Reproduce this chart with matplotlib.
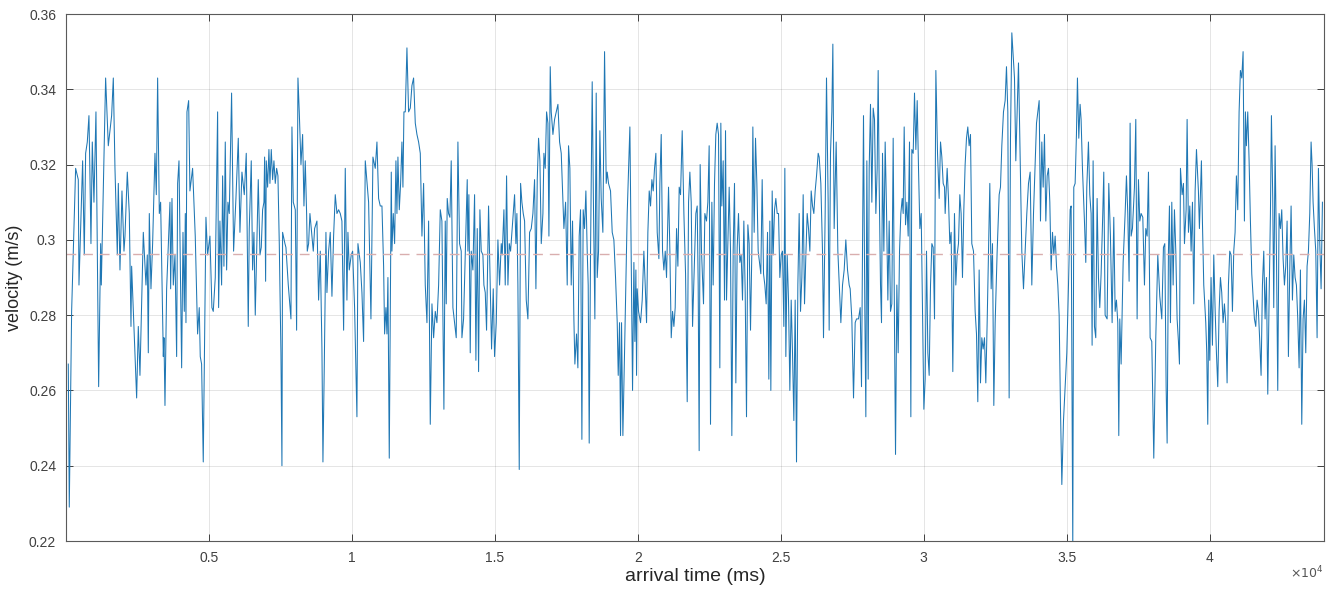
"""Velocity vs arrival time, MATLAB-style trace with mean line."""

import matplotlib
matplotlib.use("Agg")
import matplotlib.pyplot as plt
import numpy as np

# values (turning points of the trace)
arrival_ms = [
    81, 116, 198, 338, 431, 455, 513, 583, 641, 688, 746, 804, 839, 874, 921, 979,
    1049, 1143, 1213, 1236, 1387, 1481, 1597, 1656, 1714, 1796, 1831, 1889, 1959, 2029,
    2064, 2145, 2215, 2274, 2297, 2472, 2530, 2588, 2705, 2798, 2845, 2880, 2915, 2973,
    3031, 3113, 3160, 3206, 3265, 3311, 3405, 3428, 3463, 3521, 3638, 3661, 3708, 3754,
    3813, 3871, 3906, 3953, 4046, 4093, 4139, 4174, 4197, 4232, 4291,
    4336, 4429, 4522, 4604, 4662, 4697, 4744, 4802, 4896, 4954, 5036, 5105, 5152, 5222,
    5304, 5339, 5385, 5444, 5479, 5525, 5572, 5619, 5665, 5712, 5793, 5863, 5945, 6027,
    6085, 6155, 6237, 6306, 6376, 6411, 6481, 6528, 6575, 6621, 6668, 6726, 6785, 6831,
    6878, 6924, 6948, 6983, 7006, 7053, 7099, 7134, 7181, 7228, 7274, 7321, 7368, 7414,
    7461, 7519, 7554, 7577, 7659, 7694, 7776, 7869, 7904, 7951, 8021, 8067, 8114, 8160,
    8219, 8277, 8324, 8370, 8417, 8440, 8487, 8533, 8580, 8650, 8697,
    8778, 8836, 8895, 8953, 8988, 9034, 9093, 9128, 9186, 9244, 9303, 9361, 9419, 9478,
    9536, 9594, 9652, 9711, 9769, 9827, 9862, 9909, 9979, 10026, 10095, 10177, 10212,
    10294, 10352, 10410, 10469, 10585, 10667, 10737, 10818, 10877, 10935, 10993, 11052,
    11110, 11145, 11191, 11227, 11261, 11308, 11355, 11378, 11401, 11448, 11495, 11541,
    11576, 11611, 11658, 11705, 11751, 11786, 11821, 11868, 11926, 11984, 12043, 12101,
    12159, 12218, 12276, 12334, 12393, 12451, 12509, 12567, 12626, 12684, 12742, 12801,
    12859, 12917, 12975, 13034, 13092,
    13149, 13219, 13266, 13301, 13335, 13382, 13429, 13475, 13534, 13592, 13650, 13709,
    13767, 13825, 13849, 13907, 13965, 14035, 14058, 14093, 14140, 14175, 14233, 14292,
    14338, 14385, 14432, 14478, 14525, 14583, 14618, 14665, 14711, 14781, 14840, 14886,
    14945, 14991, 15050, 15108, 15166, 15225, 15259, 15318, 15364, 15411, 15458, 15504,
    15551, 15598, 15644, 15691, 15737, 15772, 15807, 15854, 15901, 15947, 15994, 16041,
    16099, 16157, 16216, 16274, 16332, 16390, 16437, 16484, 16530, 16577, 16624, 16682,
    16717, 16763, 16810, 16857, 16892, 16938, 16973, 17032, 17090, 17148, 17207, 17265,
    17323, 17416, 17475,
    17532, 17578, 17625, 17672, 17718, 17765, 17800, 17858, 17905, 17951, 17998, 18045,
    18091, 18138, 18185, 18231, 18266, 18301, 18348, 18406, 18453, 18499, 18546, 18581,
    18628, 18674, 18721, 18779, 18838, 18896, 18931, 18977, 19047, 19106, 19164, 19222,
    19281, 19316, 19362, 19397, 19432, 19479, 19537, 19630, 19724, 19782, 19817, 19864,
    19899, 19934, 19957, 19980, 20027, 20097, 20155, 20213, 20260, 20307, 20353, 20400,
    20447, 20493, 20540, 20586, 20633, 20680, 20738, 20773, 20820, 20866, 20913, 20960,
    21006, 21076, 21123, 21170, 21216, 21263, 21309, 21356, 21403, 21449, 21496, 21554,
    21613, 21671, 21729, 21776, 21822, 21869, 21916,
    21973, 22031, 22078, 22113, 22147, 22182, 22229, 22299, 22346, 22404, 22451, 22497,
    22544, 22591, 22637, 22684, 22730, 22777, 22824, 22870, 22905, 22940, 22987, 23034,
    23069, 23104, 23150, 23197, 23244, 23290, 23337, 23383, 23430, 23477, 23523, 23570,
    23617, 23663, 23710, 23757, 23803, 23850, 23896, 23943, 23990, 24025, 24071, 24118,
    24165, 24211, 24258, 24304, 24351, 24398, 24444, 24491, 24538, 24584, 24619, 24654,
    24701, 24736, 24783, 24829, 24876, 24923, 24969, 25016, 25062, 25109, 25144, 25179,
    25226, 25272, 25319, 25366, 25412, 25459, 25505, 25552, 25599, 25645, 25692, 25739,
    25785, 25832, 25879, 25925, 25972, 26019, 26065, 26112, 26158, 26205, 26252, 26310,
    26345, 26403, 26461, 26496, 26554, 26601, 26659, 26694, 26741, 26788, 26823, 26869,
    26939, 26998, 27103, 27161, 27219, 27277, 27336, 27394, 27429, 27487, 27546, 27604,
    27651, 27720, 27779, 27825, 27860, 27895, 27942, 27977, 28012, 28059, 28094, 28140,
    28187, 28234, 28280, 28327, 28373, 28408, 28443, 28490, 28525, 28560, 28607, 28653,
    28700, 28747, 28793, 28840, 28886, 28933, 28980, 29015, 29061, 29108, 29155, 29201,
    29248, 29283, 29318, 29365, 29411, 29458, 29504, 29551, 29586, 29633, 29679, 29726,
    29773, 29819, 29866, 29913, 29959, 30006, 30052, 30099, 30146, 30192, 30239, 30286,
    30332, 30379, 30426, 30484, 30542, 30589, 30635, 30682, 30729,
    30751, 30821, 30867, 30914, 30960, 31019, 31077, 31124, 31170, 31217, 31264, 31310,
    31357, 31404, 31450, 31497, 31543, 31590, 31637, 31683, 31742, 31800, 31847, 31893,
    31940, 31987, 32033, 32080, 32126, 32173, 32220, 32266, 32313, 32360, 32406, 32453,
    32500, 32570, 32640, 32686, 32733, 32791, 32849, 32896, 32943, 32989, 33036, 33083,
    33129, 33176, 33222, 33269, 33316, 33362, 33432, 33491, 33549, 33607, 33666, 33724,
    33782, 33841, 33899, 33946, 33992, 34039, 34085, 34132, 34179, 34225, 34272, 34319,
    34365, 34412, 34458, 34505, 34552, 34598, 34645, 34692, 34738, 34785, 34832, 34890,
    34948, 35006, 35065, 35123,
    35157, 35215, 35250, 35297, 35343, 35378, 35425, 35471, 35506, 35553, 35623, 35670,
    35705, 35763, 35810, 35856, 35891, 35926, 35973, 36019, 36066, 36113, 36159, 36206,
    36264, 36299, 36346, 36416, 36474, 36532, 36591, 36649, 36696, 36742, 36789, 36824,
    36859, 36906, 36976, 37046, 37092, 37139, 37185, 37220, 37255, 37302, 37372, 37419,
    37465, 37512, 37559, 37605, 37664, 37722, 37768, 37815, 37862, 37920, 37978, 38048,
    38118, 38188, 38258, 38328, 38386, 38433, 38480, 38515, 38561, 38596, 38631, 38678,
    38725, 38771, 38818, 38864, 38911, 38946, 38981, 39039, 39086, 39121, 39179, 39214,
    39261, 39308, 39354, 39401, 39447, 39494, 39541,
    39609, 39644, 39679, 39714, 39749, 39796, 39866, 39901, 39936, 39971, 40006, 40052,
    40099, 40146, 40192, 40239, 40286, 40332, 40379, 40425, 40472, 40519, 40565, 40612,
    40659, 40705, 40752, 40799, 40845, 40892, 40938, 40985, 41032, 41078, 41125, 41172,
    41218, 41253, 41288, 41335, 41382, 41428, 41475, 41521, 41568, 41615, 41661, 41708,
    41755, 41801, 41848, 41895, 41941, 41988, 42035, 42081, 42128, 42163, 42209, 42244,
    42291, 42338, 42384, 42431, 42478, 42524, 42571, 42618, 42664, 42711, 42757, 42804,
    42851, 42897, 42944, 42991, 43037, 43084, 43131, 43177, 43224, 43270, 43317, 43364,
    43410, 43457, 43504, 43550, 43585, 43620, 43667, 43714, 43760, 43807, 43854, 43900,
    43947,
]

velocity = [
    0.267, 0.229, 0.281, 0.319, 0.316, 0.288, 0.303, 0.321, 0.296, 0.323, 0.326, 0.333, 0.317, 0.299, 0.326, 0.310,
    0.334, 0.261, 0.299, 0.288, 0.343, 0.325, 0.333, 0.343, 0.319, 0.296, 0.315, 0.292, 0.313, 0.297,
    0.301, 0.318, 0.307, 0.277, 0.293, 0.258, 0.277, 0.264, 0.302, 0.288, 0.296, 0.270, 0.307, 0.287,
    0.299, 0.323, 0.312, 0.343, 0.307, 0.310, 0.269, 0.274, 0.256, 0.287, 0.310, 0.287, 0.311, 0.288,
    0.296, 0.269, 0.315, 0.321, 0.266, 0.302, 0.281, 0.307, 0.278, 0.334, 0.337,
    0.313, 0.319, 0.301, 0.275, 0.282, 0.269, 0.267, 0.241, 0.306, 0.296, 0.301, 0.282, 0.281, 0.290,
    0.334, 0.282, 0.305, 0.288, 0.317, 0.293, 0.326, 0.292, 0.310, 0.307, 0.339, 0.297, 0.311, 0.327,
    0.302, 0.318, 0.312, 0.323, 0.277, 0.303, 0.321, 0.292, 0.302, 0.280, 0.296, 0.316, 0.296, 0.298,
    0.308, 0.310, 0.322, 0.289, 0.321, 0.314, 0.324, 0.315, 0.324, 0.316, 0.321, 0.315, 0.319, 0.317,
    0.299, 0.270, 0.240, 0.302, 0.299, 0.298, 0.288, 0.279, 0.330, 0.310, 0.308, 0.276, 0.343, 0.334,
    0.320, 0.328, 0.309, 0.321, 0.307, 0.297, 0.299, 0.307, 0.303, 0.297, 0.303,
    0.305, 0.284, 0.297, 0.271, 0.241, 0.266, 0.302, 0.286, 0.297, 0.302, 0.285, 0.301, 0.312, 0.307,
    0.308, 0.307, 0.305, 0.276, 0.319, 0.284, 0.302, 0.292, 0.296, 0.297, 0.282, 0.253, 0.299,
    0.294, 0.286, 0.273, 0.321, 0.310, 0.279, 0.322, 0.319, 0.326, 0.311, 0.309, 0.309,
    0.293, 0.275, 0.282, 0.275, 0.290, 0.242, 0.291, 0.318, 0.297, 0.307, 0.299, 0.321,
    0.307, 0.322, 0.308, 0.315, 0.326, 0.314, 0.334, 0.334, 0.351, 0.334, 0.335, 0.341,
    0.343, 0.331, 0.328, 0.326, 0.323, 0.301, 0.315, 0.288, 0.278, 0.305, 0.251, 0.283,
    0.274, 0.281, 0.278, 0.288, 0.308,
    0.305, 0.255, 0.305, 0.283, 0.311, 0.307, 0.306, 0.321, 0.282, 0.278, 0.274, 0.326,
    0.299, 0.297, 0.274, 0.279, 0.296, 0.316, 0.297, 0.312, 0.270, 0.297, 0.292, 0.312,
    0.268, 0.303, 0.265, 0.308, 0.297, 0.296, 0.288, 0.286, 0.276, 0.309, 0.287, 0.271,
    0.287, 0.269, 0.278, 0.300, 0.288, 0.299, 0.296, 0.308, 0.288, 0.317, 0.288, 0.299,
    0.297, 0.302, 0.307, 0.312, 0.299, 0.307, 0.288, 0.239, 0.315, 0.310, 0.307, 0.305,
    0.284, 0.279, 0.302, 0.303, 0.307, 0.316, 0.287, 0.316, 0.327, 0.321, 0.299, 0.307,
    0.323, 0.319, 0.334, 0.331, 0.301, 0.346, 0.334, 0.328, 0.332, 0.334, 0.336, 0.326,
    0.323, 0.303, 0.310,
    0.288, 0.325, 0.319, 0.288, 0.305, 0.279, 0.267, 0.275, 0.266, 0.301, 0.308, 0.247,
    0.308, 0.303, 0.313, 0.297, 0.288, 0.246, 0.297, 0.342, 0.307, 0.279, 0.339, 0.290,
    0.297, 0.329, 0.311, 0.302, 0.350, 0.315, 0.318, 0.315, 0.313, 0.302, 0.300, 0.290,
    0.278, 0.264, 0.278, 0.248, 0.278, 0.248, 0.270, 0.307, 0.330, 0.287, 0.260, 0.294,
    0.273, 0.292, 0.264, 0.287, 0.281, 0.278, 0.284, 0.297, 0.288, 0.278, 0.302, 0.313,
    0.309, 0.316, 0.313, 0.319, 0.323, 0.302, 0.295, 0.315, 0.328, 0.297, 0.292, 0.297,
    0.290, 0.314, 0.297, 0.274, 0.281, 0.277, 0.282, 0.303, 0.293, 0.314, 0.312, 0.329,
    0.307, 0.291, 0.257, 0.310, 0.318, 0.310, 0.277,
    0.292, 0.307, 0.309, 0.288, 0.244, 0.320, 0.297, 0.283, 0.307, 0.305, 0.310, 0.325,
    0.251, 0.310, 0.288, 0.315, 0.328, 0.331, 0.328, 0.266, 0.331, 0.309, 0.321, 0.284,
    0.329, 0.284, 0.299, 0.314, 0.297, 0.248, 0.297, 0.315, 0.262, 0.298, 0.307, 0.294,
    0.296, 0.284, 0.305, 0.286, 0.253, 0.304, 0.299, 0.276, 0.297, 0.330, 0.302, 0.327,
    0.315, 0.297, 0.294, 0.291, 0.316, 0.291, 0.288, 0.283, 0.302, 0.263, 0.305, 0.260,
    0.313, 0.296, 0.308, 0.311, 0.307, 0.307, 0.290, 0.296, 0.297, 0.277, 0.319, 0.269,
    0.296, 0.284, 0.260, 0.284, 0.270, 0.252, 0.284, 0.241, 0.288, 0.307, 0.281, 0.290,
    0.312, 0.283, 0.296, 0.307, 0.303, 0.297, 0.313, 0.309, 0.307, 0.313, 0.317, 0.323,
    0.322, 0.315, 0.297, 0.274, 0.307, 0.343, 0.310, 0.276, 0.323, 0.334, 0.352, 0.303,
    0.326, 0.297, 0.278, 0.288, 0.292, 0.300, 0.292, 0.288, 0.287, 0.279, 0.258, 0.278,
    0.279, 0.279, 0.282, 0.261, 0.296, 0.333, 0.281, 0.253, 0.321, 0.263, 0.319, 0.336,
    0.310, 0.335, 0.332, 0.307, 0.319, 0.345, 0.315, 0.288, 0.278, 0.323, 0.297, 0.326,
    0.308, 0.284, 0.305, 0.281, 0.283, 0.327, 0.276, 0.243, 0.288, 0.270, 0.297, 0.307,
    0.311, 0.307, 0.330, 0.304, 0.310, 0.301, 0.326, 0.253, 0.324, 0.323, 0.339, 0.324,
    0.337, 0.319, 0.303, 0.307, 0.281, 0.255, 0.263, 0.297, 0.270, 0.264, 0.288, 0.299,
    0.298, 0.279, 0.345, 0.323, 0.311, 0.326, 0.322, 0.315, 0.314,
    0.307, 0.319, 0.311, 0.299, 0.302, 0.265, 0.307, 0.288, 0.296, 0.299, 0.312, 0.307,
    0.290, 0.308, 0.320, 0.327, 0.330, 0.325, 0.328, 0.299, 0.297, 0.281, 0.275, 0.257,
    0.292, 0.262, 0.274, 0.271, 0.274, 0.262, 0.278, 0.297, 0.315, 0.287, 0.299, 0.256,
    0.278, 0.297, 0.312, 0.314, 0.325, 0.334, 0.337, 0.346, 0.334, 0.258, 0.327, 0.355,
    0.349, 0.343, 0.321, 0.334, 0.347, 0.327, 0.297, 0.287, 0.297, 0.307, 0.315, 0.318,
    0.288, 0.307, 0.320, 0.331, 0.334, 0.337, 0.305, 0.326, 0.314, 0.328, 0.305, 0.317,
    0.319, 0.310, 0.292, 0.302, 0.296, 0.301, 0.293, 0.288, 0.280, 0.255, 0.235, 0.252,
    0.261, 0.270, 0.288, 0.308,
    0.309, 0.218, 0.314, 0.315, 0.328, 0.343, 0.327, 0.336, 0.332, 0.319, 0.305, 0.294,
    0.314, 0.326, 0.312, 0.307, 0.272, 0.321, 0.277, 0.274, 0.311, 0.290, 0.282, 0.291,
    0.307, 0.318, 0.280, 0.279, 0.315, 0.301, 0.278, 0.306, 0.281, 0.284, 0.278, 0.248,
    0.279, 0.267, 0.294, 0.307, 0.317, 0.307, 0.289, 0.331, 0.301, 0.303, 0.314, 0.332,
    0.279, 0.316, 0.305, 0.307, 0.306, 0.288, 0.303, 0.301, 0.318, 0.274, 0.273, 0.242,
    0.274, 0.296, 0.285, 0.279, 0.298, 0.299, 0.261, 0.246, 0.297, 0.309, 0.278, 0.310,
    0.288, 0.308, 0.297, 0.279, 0.273, 0.267, 0.319, 0.312, 0.315, 0.299, 0.308, 0.332,
    0.302, 0.309, 0.297, 0.310, 0.283, 0.313, 0.324,
    0.313, 0.303, 0.312, 0.321, 0.305, 0.288, 0.278, 0.270, 0.251, 0.284, 0.268, 0.290,
    0.272, 0.296, 0.282, 0.270, 0.261, 0.281, 0.290, 0.286, 0.278, 0.283, 0.278, 0.262,
    0.288, 0.297, 0.296, 0.281, 0.297, 0.302, 0.317, 0.308, 0.334, 0.345, 0.343, 0.350,
    0.305, 0.334, 0.325, 0.334, 0.321, 0.305, 0.291, 0.285, 0.279, 0.277, 0.284, 0.281,
    0.273, 0.264, 0.288, 0.297, 0.279, 0.290, 0.259, 0.284, 0.307, 0.333, 0.311, 0.282,
    0.325, 0.297, 0.260, 0.307, 0.303, 0.308, 0.295, 0.288, 0.293, 0.305, 0.269, 0.292,
    0.309, 0.284, 0.296, 0.290, 0.288, 0.279, 0.266, 0.292, 0.251, 0.279, 0.284, 0.270,
    0.293, 0.297, 0.307, 0.326, 0.320, 0.310, 0.303, 0.297, 0.274, 0.319, 0.299, 0.287,
    0.310,
]

mean_velocity = 0.2962
x_ticks = [5000, 10000, 15000, 20000, 25000, 30000, 35000, 40000]
x_tick_labels = ["0.5", "1", "1.5", "2", "2.5", "3", "3.5", "4"]
y_ticks = [0.22, 0.24, 0.26, 0.28, 0.30, 0.32, 0.34, 0.36]
y_tick_labels = ["0.22", "0.24", "0.26", "0.28", "0.3", "0.32", "0.34", "0.36"]

plt.rcParams["font.family"] = ["Liberation Sans Narrow", "Liberation Sans", "DejaVu Sans"]

AX_COLOR = "#404040"

fig = plt.figure(figsize=(13.38, 5.91), dpi=100)
ax = fig.add_axes([0.0493, 0.0846, 0.9402, 0.8917])

ax.plot(arrival_ms, velocity, color="#1F77B4", linewidth=0.75)
# mean velocity
ax.axhline(mean_velocity, color="#D9AEAE", linewidth=1.0, linestyle=(0, (7, 5)))

ax.set_xlim(0, 44000)
ax.set_ylim(0.22, 0.36)
ax.set_xticks(x_ticks)
ax.set_xticklabels(x_tick_labels)
ax.set_yticks(y_ticks)
ax.set_yticklabels(y_tick_labels)

ax.grid(True, color="#262626", alpha=0.12, linewidth=0.7)
ax.tick_params(direction="in", top=True, right=True, length=5, width=0.7,
               colors=AX_COLOR, labelsize=10, pad=7)
for sp in ax.spines.values():
    sp.set_color("#5a5a5a")
    sp.set_linewidth(0.8)

ax.set_xlabel("arrival time (ms)", fontsize=14, color="#262626", labelpad=2)
ax.set_ylabel("velocity (m/s)", fontsize=13, color="#262626", labelpad=4)
fig.text(0.9895, 0.03, r"$\times10^{4}$", ha="right", va="center", fontsize=9, color="#555555")

fig.savefig("out.png", dpi=100)
plt.close(fig)
